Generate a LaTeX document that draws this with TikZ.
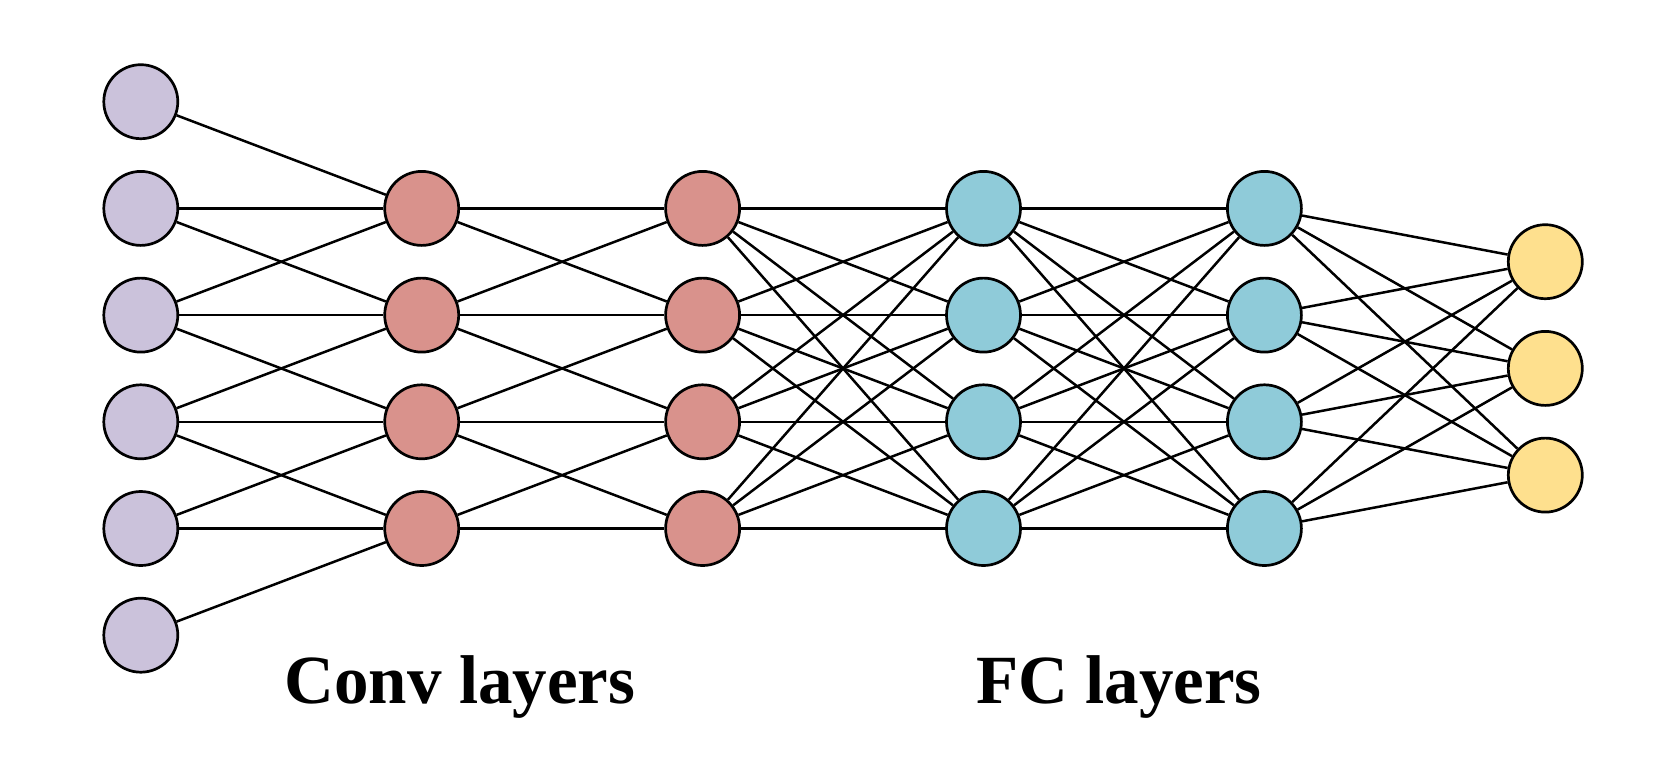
\documentclass[tikz,border=0pt]{standalone}
\usepackage{fontspec}
\setmainfont{Liberation Serif}
\definecolor{inpc}{RGB}{203,194,219}
\definecolor{convc}{RGB}{217,146,140}
\definecolor{fcc}{RGB}{143,203,217}
\definecolor{outc}{RGB}{254,224,142}
\tikzset{
  neuron/.style={circle, draw=black, line width=2.7pt, minimum size=74pt, inner sep=0pt},
  link/.style={draw=black, line width=2.5pt},
  lbl/.style={anchor=base, font=\fontsize{69}{80}\selectfont\bfseries, inner sep=0pt}
}
\begin{document}
\begin{tikzpicture}[x=1pt,y=-1pt]
\useasboundingbox (0,0) rectangle (1674,777);
% nodes
\foreach \i in {0,...,5} \node[neuron, fill=inpc] (a\i) at (140.8, 101.7+106.7*\i) {};
\foreach \i in {0,...,3} {
  \node[neuron, fill=convc] (b\i) at (421.7, 208.4+106.7*\i) {};
  \node[neuron, fill=convc] (c\i) at (702.6, 208.4+106.7*\i) {};
  \node[neuron, fill=fcc] (d\i) at (983.5, 208.4+106.7*\i) {};
  \node[neuron, fill=fcc] (e\i) at (1264.4, 208.4+106.7*\i) {};
}
\foreach \i in {0,...,2} \node[neuron, fill=outc] (f\i) at (1545.3, 261.7+106.7*\i) {};
% conv edges input -> conv1
\foreach \j in {0,...,3} {
  \pgfmathtruncatemacro{\p}{\j+1}
  \pgfmathtruncatemacro{\q}{\j+2}
  \draw[link] (a\j) -- (b\j);
  \draw[link] (a\p) -- (b\j);
  \draw[link] (a\q) -- (b\j);
}
% conv1 -> conv2
\foreach \j in {0,...,3} \draw[link] (b\j) -- (c\j);
\foreach \j/\k in {0/1,1/2,2/3} {
  \draw[link] (b\j) -- (c\k);
  \draw[link] (b\k) -- (c\j);
}
% fully connected
\foreach \i in {0,...,3} \foreach \j in {0,...,3} {
  \draw[link] (c\i) -- (d\j);
  \draw[link] (d\i) -- (e\j);
}
\foreach \i in {0,...,3} \foreach \j in {0,...,2} \draw[link] (e\i) -- (f\j);
% labels
\node[lbl] (convlbl) at (460,703) {Conv layers};
\node[lbl] (fclbl) at (1119,703) {FC layers};
\end{tikzpicture}
\end{document}
